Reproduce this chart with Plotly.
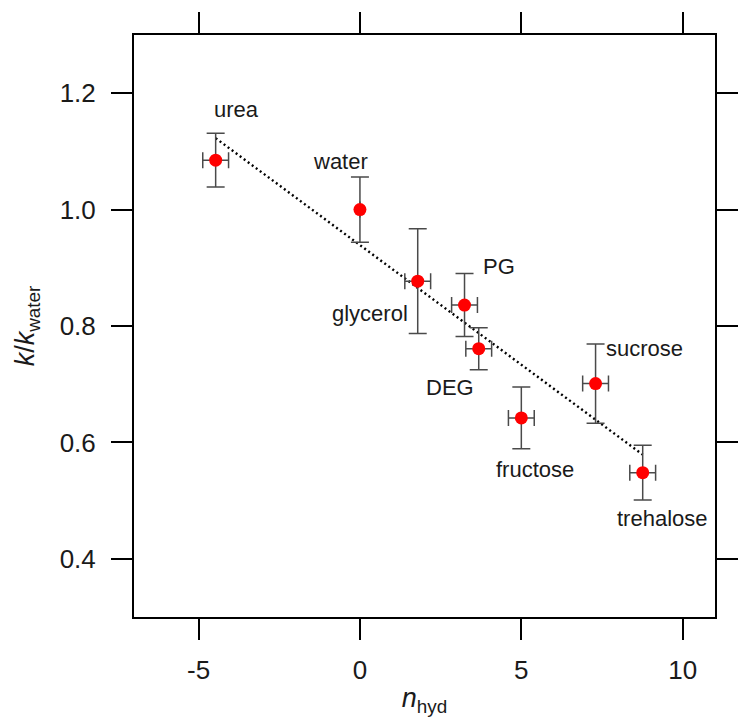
import plotly.graph_objects as go

# Data
names = ["urea", "water", "glycerol", "PG", "DEG", "fructose", "sucrose", "trehalose"]
n_hyd = [-4.47, 0.0, 1.79, 3.24, 3.68, 5.00, 7.30, 8.76]
k_ratio = [1.085, 1.000, 0.877, 0.836, 0.761, 0.642, 0.701, 0.548]
k_err = [0.046, 0.056, 0.090, 0.054, 0.036, 0.053, 0.068, 0.047]
n_err = [0.40, 0.0, 0.40, 0.40, 0.40, 0.40, 0.40, 0.40]

# Linear fit
fit_slope = -0.0411
fit_intercept = 0.939
fit_x = [-4.47, 8.76]
fit_y = [fit_intercept + fit_slope * v for v in fit_x]

# Label placement (data coords)
label_x = [-3.83, -0.61, 0.31, 4.30, 2.80, 5.41, 8.83, 9.36]
label_y = [1.172, 1.083, 0.822, 0.902, 0.694, 0.554, 0.762, 0.470]

FONT = "Liberation Sans, Arial, sans-serif"
ERR_COLOR = "#4a4a4a"

fig = go.Figure()

fig.add_trace(go.Scatter(
    x=fit_x, y=fit_y, mode="lines",
    line=dict(color="black", width=2.4, dash="2px,3px"),
    hoverinfo="skip", showlegend=False,
))

fig.add_trace(go.Scatter(
    x=n_hyd, y=k_ratio, mode="markers",
    marker=dict(color="#ff0000", size=13, line=dict(width=0)),
    error_y=dict(type="data", array=k_err, visible=True,
                 color=ERR_COLOR, thickness=1.5, width=9),
    error_x=dict(type="data", array=n_err, visible=True,
                 color=ERR_COLOR, thickness=1.5, width=8),
    text=names, showlegend=False,
))

for name, lx, ly in zip(names, label_x, label_y):
    fig.add_annotation(x=lx, y=ly, text=name, showarrow=False,
                       xanchor="center", yanchor="middle",
                       font=dict(family=FONT, size=22, color="#1a1a1a"))

axis_common = dict(
    showline=True, linecolor="black", linewidth=2, mirror="ticks",
    ticks="outside", ticklen=21, tickwidth=2, tickcolor="black",
    showgrid=False, zeroline=False,
    tickfont=dict(family=FONT, size=26, color="#1a1a1a"),
)

fig.update_xaxes(range=[-7, 11], tickvals=[-5, 0, 5, 10],
                 ticktext=["-5", "0", "5", "10"],
                 title=dict(text="<i>n</i><sub>hyd</sub>",
                            font=dict(family=FONT, size=27, color="#1a1a1a"),
                            standoff=4),
                 ticklabelstandoff=8,
                 **axis_common)
fig.update_yaxes(range=[0.3, 1.3], tickvals=[0.4, 0.6, 0.8, 1.0, 1.2],
                 ticktext=["0.4", "0.6", "0.8", "1.0", "1.2"],
                 title=dict(text="<i>k</i>/<i>k</i><sub>water</sub>",
                            font=dict(family=FONT, size=27, color="#1a1a1a"),
                            standoff=17),
                 ticklabelstandoff=10,
                 **axis_common)

fig.update_layout(
    width=750, height=725,
    margin=dict(l=134, r=24, t=24, b=108),
    plot_bgcolor="white", paper_bgcolor="white",
    showlegend=False,
)

fig.write_html("out.html")
